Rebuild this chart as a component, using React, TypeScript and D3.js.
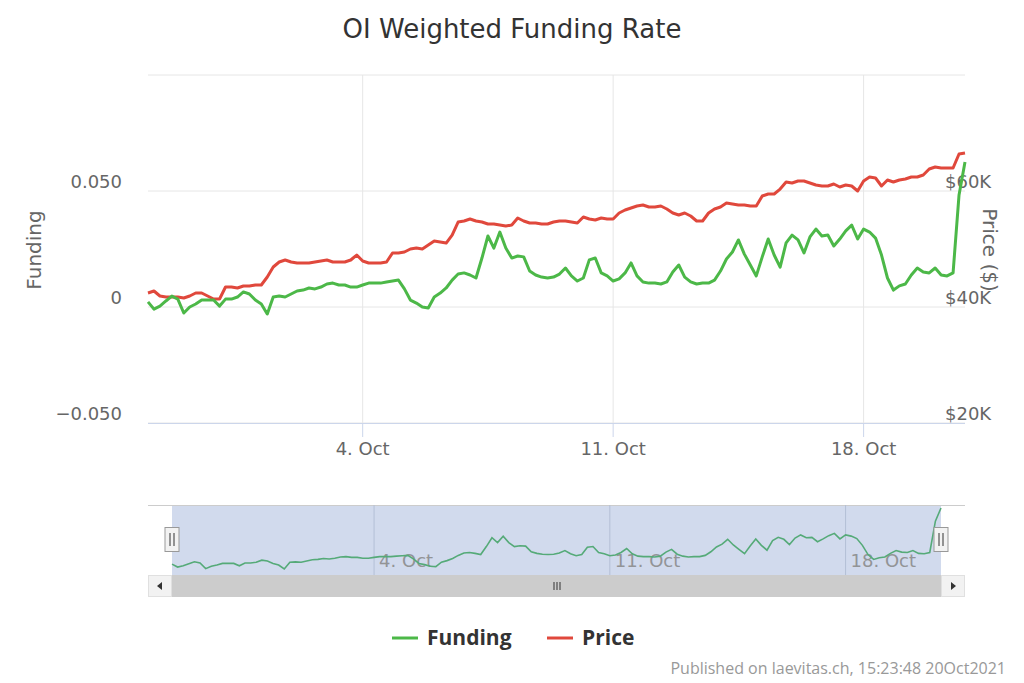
import * as d3 from 'd3';

// 4-hourly samples, starting 28 Sep 2021 00:00 UTC
const START = Date.UTC(2021, 8, 28, 0);
const STEP_HOURS = 4;

const funding = [
  0.0022, -0.0009, 0.0004, 0.0026, 0.0047, 0.0034, -0.0026, 0.0, 0.0013, 0.003,
  0.003, 0.003, 0.0004, 0.0034, 0.0034, 0.0043, 0.0065, 0.0056, 0.003, 0.0013,
  -0.003, 0.0043, 0.0047, 0.0043, 0.0056, 0.0069, 0.0073, 0.0082, 0.0078, 0.0086,
  0.0099, 0.0103, 0.0095, 0.0095, 0.0086, 0.0086, 0.0095, 0.0103, 0.0103, 0.0103,
  0.0108, 0.0112, 0.0116, 0.0078, 0.003, 0.0017, 0.0, -0.0004, 0.0043, 0.006,
  0.0082, 0.0116, 0.0142, 0.0147, 0.0138, 0.0125, 0.0211, 0.0306, 0.0254, 0.0323,
  0.0254, 0.0211, 0.022, 0.0216, 0.0155, 0.0138, 0.0129, 0.0125, 0.0129, 0.0142,
  0.0168, 0.0134, 0.0112, 0.0125, 0.0203, 0.0211, 0.0147, 0.0134, 0.0112, 0.0121,
  0.0147, 0.019, 0.0134, 0.0108, 0.0103, 0.0103, 0.0099, 0.0108, 0.0151, 0.0181,
  0.0129, 0.0108, 0.0099, 0.0103, 0.0103, 0.0116, 0.0155, 0.0207, 0.0237, 0.0289,
  0.0228, 0.0181, 0.0134, 0.0216, 0.0293, 0.0224, 0.0172, 0.0276, 0.031, 0.0289,
  0.0233, 0.0302, 0.0336, 0.0306, 0.031, 0.0263, 0.0293, 0.0328, 0.0353, 0.0293,
  0.0336, 0.0323, 0.0297, 0.0224, 0.0125, 0.0073, 0.0091, 0.0099, 0.0138, 0.0168,
  0.0151, 0.0147, 0.0168, 0.0138, 0.0134, 0.0147, 0.0483, 0.0625,
];

const price = [
  42410, 42760, 41900, 41720, 41720, 41720, 41550, 41900, 42410, 42410,
  41900, 41380, 41380, 43450, 43450, 43280, 43620, 43620, 43790, 43790,
  45170, 46900, 47760, 48100, 47760, 47590, 47590, 47590, 47760, 47930,
  48100, 47760, 47760, 47760, 48100, 48960, 47930, 47590, 47590, 47590,
  47760, 49310, 49310, 49480, 50000, 50170, 50000, 50690, 51380, 51210,
  51030, 52410, 54650, 54830, 55170, 54830, 54650, 54310, 54310, 54140,
  53960, 54140, 55340, 54830, 54480, 54480, 54310, 54310, 54650, 54830,
  54830, 54650, 54480, 55520, 55170, 55000, 55340, 55170, 55170, 56210,
  56720, 57070, 57410, 57590, 57240, 57240, 57410, 56900, 56210, 55860,
  56210, 55690, 54830, 54830, 56210, 56900, 57240, 57930, 57760, 57590,
  57590, 57410, 57410, 59140, 59480, 59480, 60340, 61550, 61380, 61720,
  61720, 61380, 61030, 60860, 60860, 61210, 60690, 61030, 60860, 60000,
  61720, 62410, 62240, 60860, 61890, 61550, 61890, 62070, 62410, 62410,
  62760, 63790, 64140, 63960, 63960, 63960, 66380, 66550,
];

const xTickDates = [Date.UTC(2021, 9, 4), Date.UTC(2021, 9, 11), Date.UTC(2021, 9, 18)];
const fundingGrid = [-0.05, 0, 0.05, 0.1];
const fundingTicks = [-0.05, 0, 0.05];
const priceTicks = [20000, 40000, 60000];

const GREEN = '#4cb848';
const RED = '#e0483c';
const NAV_LINE = '#55aa78';
const FONT = "'DejaVu Sans', sans-serif";

type Pt = { t: Date; v: number };

export default function App() {
  const width = 1024;
  const height = 683;
  const plot = { left: 148, right: 965, top: 75, bottom: 423 };
  const nav = { left: 148, right: 965, top: 505, bottom: 575, maskL: 172, maskR: 941 };

  const dates = funding.map((_, i) => new Date(START + i * STEP_HOURS * 3600e3));
  const domain = [dates[0], dates[dates.length - 1]];

  const x = d3.scaleUtc().domain(domain).range([plot.left, plot.right]);
  const yF = d3.scaleLinear().domain([-0.05, 0.1]).range([plot.bottom, plot.top]);
  const yP = d3.scaleLinear().domain([20000, 80000]).range([plot.bottom, plot.top]);

  const xN = d3.scaleUtc().domain(domain).range([nav.maskL, nav.maskR]);
  const yN = d3
    .scaleLinear()
    .domain(d3.extent(funding) as [number, number])
    .range([569, 508]);

  const fundingPts: Pt[] = funding.map((v, i) => ({ t: dates[i], v }));
  const pricePts: Pt[] = price.map((v, i) => ({ t: dates[i], v }));

  const fundingLine = d3.line<Pt>().x((d) => x(d.t)).y((d) => yF(d.v))(fundingPts) ?? '';
  const priceLine = d3.line<Pt>().x((d) => x(d.t)).y((d) => yP(d.v))(pricePts) ?? '';
  const navLine = d3.line<Pt>().x((d) => xN(d.t)).y((d) => yN(d.v))(fundingPts) ?? '';

  const fmtDate = d3.utcFormat('%-d. %b');
  const fmtFunding = (v: number) => (v === 0 ? '0' : d3.format('.3f')(v));
  const fmtPrice = (v: number) => `$${v / 1000}K`;

  const midY = (plot.top + plot.bottom) / 2 + 1;
  const handleY = 527;

  return (
    <div style={{ position: 'absolute', left: 0, top: 0 }}>
      <svg width={width} height={height} style={{ display: 'block', background: '#fff' }}>
        {/* Title */}
        <text x={512} y={38} textAnchor='middle' fontFamily={FONT} fontSize={26} fill='#333'>
          OI Weighted Funding Rate
        </text>

        {/* Horizontal grid */}
        {fundingGrid.map((t) => (
          <line key={t} x1={plot.left} x2={plot.right} y1={yF(t)} y2={yF(t)} stroke='#e6e6e6' />
        ))}
        {/* Vertical grid + ticks */}
        {xTickDates.map((t) => (
          <g key={t}>
            <line x1={x(new Date(t))} x2={x(new Date(t))} y1={plot.top} y2={plot.bottom} stroke='#e6e6e6' />
            <line x1={x(new Date(t))} x2={x(new Date(t))} y1={plot.bottom} y2={plot.bottom + 14} stroke='#ccd6eb' />
            <text
              x={x(new Date(t))}
              y={455}
              textAnchor='middle'
              fontFamily={FONT}
              fontSize={18}
              fill='#666'
            >
              {fmtDate(new Date(t))}
            </text>
          </g>
        ))}
        <line x1={plot.left} x2={plot.right} y1={plot.bottom + 0.5} y2={plot.bottom + 0.5} stroke='#ccd6eb' />

        {/* Left axis labels */}
        {fundingTicks.map((t) => (
          <text key={t} x={122} y={yF(t) - 3} textAnchor='end' fontFamily={FONT} fontSize={18} fill='#666'>
            {fmtFunding(t)}
          </text>
        ))}
        {/* Right axis labels */}
        {priceTicks.map((t) => (
          <text key={t} x={945} y={yP(t) - 3} textAnchor='start' fontFamily={FONT} fontSize={18} fill='#666'>
            {fmtPrice(t)}
          </text>
        ))}

        {/* Axis titles */}
        <text
          transform={`translate(41,${midY}) rotate(-90)`}
          textAnchor='middle'
          fontFamily={FONT}
          fontSize={20}
          fill='#666'
        >
          Funding
        </text>
        <text
          transform={`translate(983,${midY}) rotate(90)`}
          textAnchor='middle'
          fontFamily={FONT}
          fontSize={20}
          fill='#666'
        >
          Price ($)
        </text>

        {/* Series */}
        <path d={priceLine} fill='none' stroke={RED} strokeWidth={3} strokeLinejoin='round' />
        <path d={fundingLine} fill='none' stroke={GREEN} strokeWidth={3} strokeLinejoin='round' />

        {/* Navigator */}
        <rect
          x={nav.maskL}
          y={nav.top}
          width={nav.maskR - nav.maskL}
          height={nav.bottom - nav.top}
          fill='rgba(102,133,194,0.3)'
        />
        <line x1={nav.left} x2={nav.right} y1={nav.top + 0.5} y2={nav.top + 0.5} stroke='#cccccc' />
        {xTickDates.map((t) => (
          <g key={t}>
            <line x1={xN(new Date(t))} x2={xN(new Date(t))} y1={nav.top} y2={nav.bottom} stroke='#b4bfd6' />
            <text x={xN(new Date(t)) + 5} y={567} fontFamily={FONT} fontSize={18} fill='#888' opacity={0.85}>
              {fmtDate(new Date(t))}
            </text>
          </g>
        ))}
        <path d={navLine} fill='none' stroke={NAV_LINE} strokeWidth={1.6} />

        {/* Navigator handles */}
        {[nav.maskL, nav.maskR].map((hx) => (
          <g key={hx} transform={`translate(${hx - 7.5},${handleY})`}>
            <rect x={0.5} y={0.5} width={14} height={24} fill='#f2f2f2' stroke='#999' />
            <line x1={5.5} x2={5.5} y1={6} y2={19} stroke='#333' />
            <line x1={9.5} x2={9.5} y1={6} y2={19} stroke='#333' />
          </g>
        ))}

        {/* Scrollbar */}
        <rect x={nav.left} y={575} width={nav.right - nav.left} height={22} fill='#f2f2f2' />
        <rect x={nav.maskL} y={575} width={nav.maskR - nav.maskL} height={22} fill='#cccccc' />
        <rect x={nav.left + 0.5} y={575.5} width={23} height={21} fill='#f2f2f2' stroke='#e0e0e0' />
        <rect x={nav.maskR + 0.5} y={575.5} width={23} height={21} fill='#f2f2f2' stroke='#e0e0e0' />
        <path d='M162,582 L162,590 L157,586 Z' fill='#333' />
        <path d='M951,582 L951,590 L956,586 Z' fill='#333' />
        {[-3, 0, 3].map((dx) => (
          <line
            key={dx}
            x1={(nav.maskL + nav.maskR) / 2 + dx + 0.5}
            x2={(nav.maskL + nav.maskR) / 2 + dx + 0.5}
            y1={582}
            y2={590}
            stroke='#333'
          />
        ))}

        {/* Legend */}
        <line x1={392} x2={418} y1={638} y2={638} stroke={GREEN} strokeWidth={3} />
        <text x={427} y={645} fontFamily="'Open Sans', sans-serif" fontWeight={700} fontSize={21} fill='#333'>
          Funding
        </text>
        <line x1={547} x2={573} y1={638} y2={638} stroke={RED} strokeWidth={3} />
        <text x={582} y={645} fontFamily="'Open Sans', sans-serif" fontWeight={700} fontSize={21} fill='#333'>
          Price
        </text>

        {/* Credits */}
        <text x={1006} y={674} textAnchor='end' fontFamily="'Open Sans', sans-serif" fontSize={16} fill='#999'>
          Published on laevitas.ch, 15:23:48 20Oct2021
        </text>
      </svg>
    </div>
  );
}
